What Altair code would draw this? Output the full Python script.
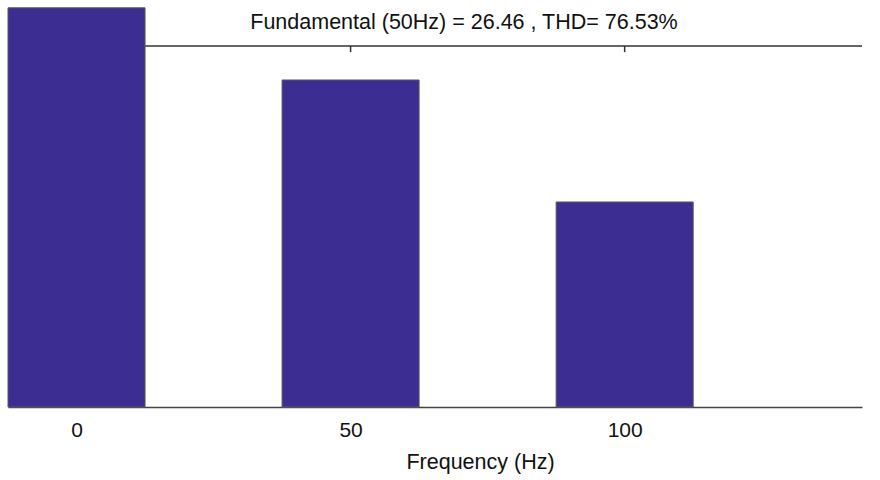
import altair as alt
import pandas as pd

freqs = [0, 50, 100]
amps = [32.3, 26.46, 16.59]
top_ticks = [50, 100]
y_max = 29.21
x_min, x_max = -12.5, 143.3
half_width = 12.5
tick_len = 0.5
title_text = "Fundamental (50Hz) = 26.46 , THD= 76.53%"
x_title = "Frequency (Hz)"

bars_df = pd.DataFrame({"f": freqs, "a": amps})
ticks_df = pd.DataFrame({"f": top_ticks})
line_df = pd.DataFrame({"x0": [x_min], "x1": [x_max], "y": [y_max]})
title_df = pd.DataFrame({"t": [title_text]})

FONT = "Liberation Sans"
x_scale = alt.Scale(domain=[x_min, x_max], nice=False, zero=False, padding=0)
y_scale = alt.Scale(domain=[0, y_max], nice=False, zero=False, padding=0)
x_axis = alt.Axis(values=freqs, ticks=False, grid=False, domainColor="#444444",
                  domainWidth=1.5, labelFontSize=21, labelPadding=12,
                  labelColor="#111111", title=x_title, titleFontSize=21.5,
                  titleFontWeight="normal", titleColor="#111111",
                  titleX=472, titleY=61, titleBaseline="alphabetic",
                  labelFont=FONT, titleFont=FONT)

top_line = alt.Chart(line_df).mark_rule(color="#333333", strokeWidth=1.5).encode(
    x=alt.X("x0:Q", scale=x_scale, axis=x_axis),
    x2="x1",
    y=alt.Y("y:Q", scale=y_scale, axis=None),
)

tick_marks = alt.Chart(ticks_df).transform_calculate(
    y0=f"{y_max}", y1=f"{y_max - tick_len}"
).mark_rule(color="#333333", strokeWidth=1.5).encode(
    x=alt.X("f:Q", scale=x_scale, axis=x_axis),
    y=alt.Y("y0:Q", scale=y_scale, axis=None),
    y2="y1",
)

bars = alt.Chart(bars_df).transform_calculate(
    f0=f"datum.f - {half_width}", f1=f"datum.f + {half_width}", z="0"
).mark_bar(color="#3b2d91", stroke="#5a5a5a", strokeWidth=1).encode(
    x=alt.X("f0:Q", scale=x_scale, axis=x_axis),
    x2="f1",
    y=alt.Y("a:Q", scale=y_scale, axis=None),
    y2="z",
)

title_mark = alt.Chart(title_df).mark_text(
    font=FONT, fontSize=21.5, color="#111111", align="center", baseline="alphabetic"
).encode(
    text="t:N",
    x=alt.value(456),
    y=alt.value(-17),
)

chart = alt.layer(top_line, tick_marks, bars, title_mark).properties(
    width=854, height=361,
    autosize=alt.AutoSizeParams(type="none"),
    padding={"left": 8, "top": 46, "right": 18, "bottom": 73},
).configure_view(stroke=None)

chart.save("out.html", embed_options={"renderer": "svg", "actions": False})
